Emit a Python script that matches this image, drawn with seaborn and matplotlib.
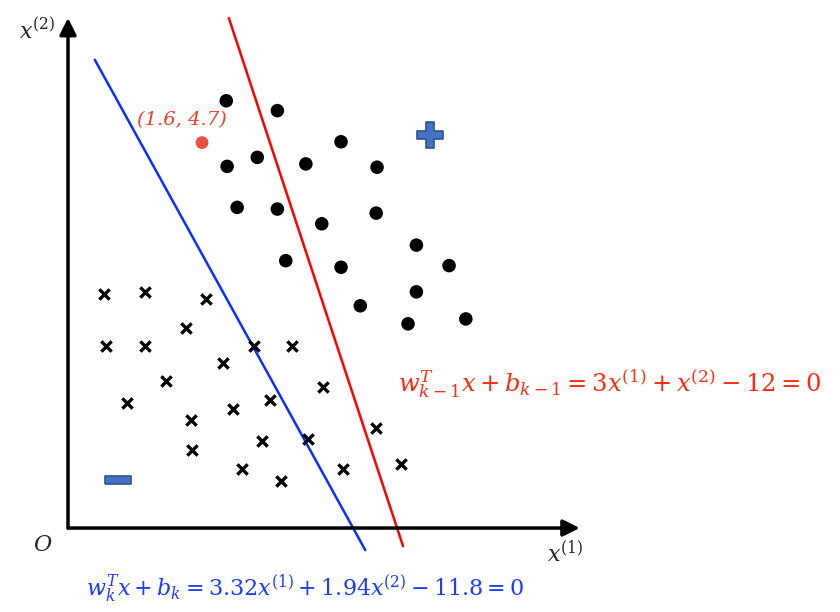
import numpy as np
import pandas as pd
import matplotlib
matplotlib.use("Agg")
import matplotlib.pyplot as plt
import seaborn as sns

sns.set_style("white")
plt.rcParams['mathtext.fontset'] = 'dejavuserif'

# positive class (dots)
pos_x1 = [1.89, 2.50, 3.26, 1.90, 2.26, 2.84, 3.69, 2.02, 2.50, 3.03,
          3.68, 4.16, 2.60, 3.26, 4.55, 4.16, 3.49, 4.06, 4.75]
pos_x2 = [5.21, 5.09, 4.71, 4.41, 4.52, 4.44, 4.40, 3.91, 3.89, 3.71,
          3.84, 3.45, 3.26, 3.18, 3.20, 2.88, 2.71, 2.49, 2.55]

# negative class (crosses)
neg_x1 = [0.43, 0.92, 1.65, 1.41, 0.45, 0.92, 2.22, 2.67, 1.85, 1.17,
          3.04, 0.70, 2.41, 1.97, 1.47, 3.68, 2.32, 2.87, 1.48, 3.98,
          2.08, 3.28, 2.54]
neg_x2 = [2.85, 2.88, 2.79, 2.44, 2.22, 2.22, 2.22, 2.22, 2.01, 1.79,
          1.72, 1.52, 1.56, 1.45, 1.32, 1.22, 1.06, 1.09, 0.95, 0.78,
          0.72, 0.72, 0.57]

# misclassified point
mis_point = (1.6, 4.7)

# class symbols
plus_pos = (4.32, 4.79)
minus_pos = (0.60, 0.59)

# separating lines (end points)
red_line_x1 = [1.92, 4.00]
red_line_x2 = [6.22, -0.22]
blue_line_x1 = [0.32, 3.55]
blue_line_x2 = [5.71, -0.27]

# axis extent
x1_max = 6.11
x2_max = 6.22

pos = pd.DataFrame({'x1': pos_x1, 'x2': pos_x2})
neg = pd.DataFrame({'x1': neg_x1, 'x2': neg_x2})

fig = plt.figure(figsize=(8.4, 6.12), dpi=100)
ax = fig.add_axes([0, 0, 1, 1])
ax.set_xlim(-0.812, 9.218)
ax.set_ylim(-1.024, 6.439)
ax.axis('off')

# axes with arrows
ax.annotate('', xy=(x1_max, 0), xytext=(0, 0),
            arrowprops=dict(arrowstyle='-|>', lw=2.5, color='black',
                            mutation_scale=25, shrinkA=0, shrinkB=0))
ax.annotate('', xy=(0, x2_max), xytext=(0, 0),
            arrowprops=dict(arrowstyle='-|>', lw=2.5, color='black',
                            mutation_scale=25, shrinkA=0, shrinkB=0))

# lines
sns.lineplot(x=blue_line_x1, y=blue_line_x2, color='#0a2eff', lw=1.8,
             ax=ax, sort=False)
sns.lineplot(x=red_line_x1, y=red_line_x2, color='#ff0000', lw=1.8,
             ax=ax, sort=False)

# points
sns.scatterplot(data=pos, x='x1', y='x2', color='black', s=95,
                edgecolor='none', ax=ax, zorder=3)
sns.scatterplot(data=neg, x='x1', y='x2', marker='x', color='black', s=55,
                linewidth=2.4, ax=ax, zorder=3)
ax.scatter([mis_point[0]], [mis_point[1]], color='#e8513f', s=85,
           edgecolor='none', zorder=3)

# class symbols
ax.scatter([plus_pos[0]], [plus_pos[1]], marker='P', s=360,
           color='#4472c4', edgecolor='#2f528f', linewidth=1.2, zorder=3)
minus_marker = [(-1, -0.33), (1, -0.33), (1, 0.33), (-1, 0.33), (-1, -0.33)]
ax.scatter([minus_pos[0]], [minus_pos[1]], marker=minus_marker, s=330,
           color='#4472c4', edgecolor='#2f528f', linewidth=1.2, zorder=3)

# text
ax.text(-0.37, 6.07, r'$x^{(2)}$', fontsize=16, ha='center', va='center')
ax.text(-0.30, -0.21, r'$O$', fontsize=16, ha='center', va='center')
ax.text(5.93, -0.30, r'$x^{(1)}$', fontsize=16, ha='center', va='center')
ax.text(1.36, 4.98, '(1.6, 4.7)', fontsize=14, color='#f03c28',
        family='DejaVu Serif', style='italic', ha='center', va='center')
ax.text(3.94, 1.76, r'$w_{k-1}^{T}x+b_{k-1}=3x^{(1)}+x^{(2)}-12=0$',
        fontsize=17.5, color='#ff2a10', ha='left', va='center')
ax.text(2.83, -0.73, r'$w_{k}^{T}x+b_{k}=3.32x^{(1)}+1.94x^{(2)}-11.8=0$',
        fontsize=16, color='#1a3cff', ha='center', va='center')

fig.savefig('out.png', dpi=100)
